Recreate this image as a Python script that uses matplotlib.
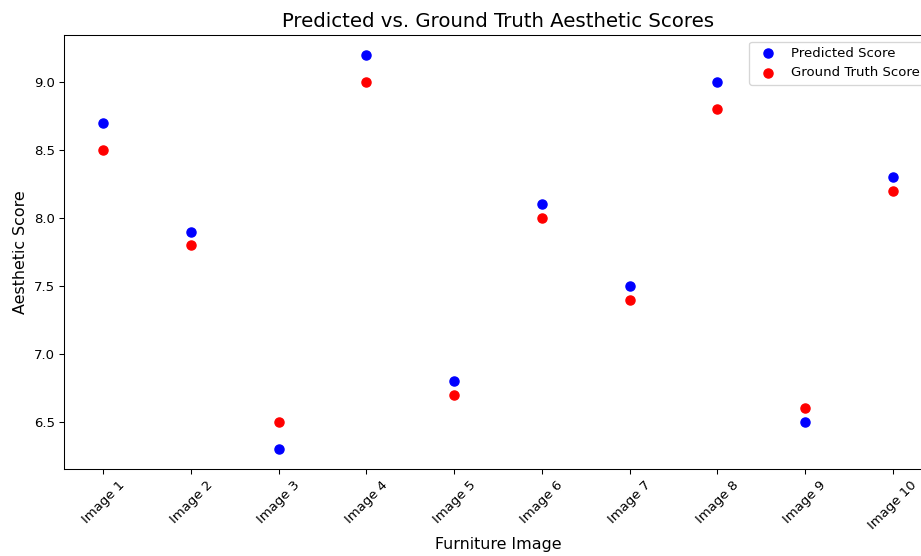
import numpy as np
import matplotlib.pyplot as plt

images = ["Image %d" % i for i in range(1, 11)]
predicted = [8.7, 7.9, 6.3, 9.2, 6.8, 8.1, 7.5, 9.0, 6.5, 8.3]
ground_truth = [8.5, 7.8, 6.5, 9.0, 6.7, 8.0, 7.4, 8.8, 6.6, 8.2]

dpi = 95
fig = plt.figure(figsize=(921 / dpi, 556 / dpi), dpi=dpi)
# axes run a little past the right edge, like the cropped original
ax = fig.add_axes([64 / 921, 87 / 556, 868 / 921, 434 / 556])

ax.scatter(images, predicted, color='blue', s=48, label='Predicted Score')
ax.scatter(images, ground_truth, color='red', s=48, label='Ground Truth Score')

ax.set_title("Predicted vs. Ground Truth Aesthetic Scores", fontsize=15)
ax.set_xlabel("Furniture Image", fontsize=12)
ax.set_ylabel("Aesthetic Score", fontsize=12)
ax.tick_params(axis='x', rotation=45)
ax.legend(loc='upper right')

fig.savefig("out.png", dpi=dpi)
